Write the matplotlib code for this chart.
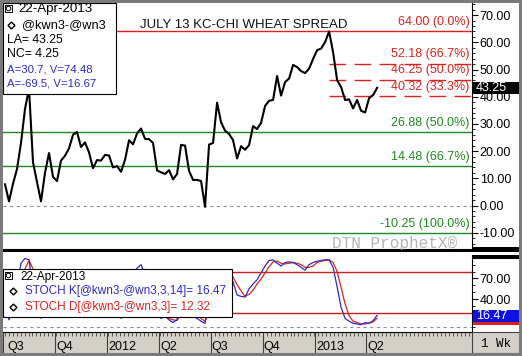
import matplotlib
matplotlib.use("Agg")
import matplotlib.pyplot as plt
import matplotlib.dates as mdates
from matplotlib.patches import Rectangle, Ellipse
from matplotlib.lines import Line2D
import pandas as pd

# weekly closes of the July 13 KC-CHI wheat spread
spread = [7.8, 1.5, 8.0, 13.4, 23.0, 35.5, 43.0, 15.9, 8.6, 1.5,
          12.0, 19.3, 10.5, 9.0, 16.5, 18.3, 21.0, 26.0, 27.0, 21.5,
          23.2, 19.5, 13.7, 16.7, 16.5, 18.6, 18.4, 14.0, 14.5, 12.4,
          16.8, 24.0, 22.5, 26.5, 28.3, 24.5, 24.4, 23.0, 12.9, 12.2,
          11.6, 13.0, 9.6, 11.6, 22.3, 22.0, 12.7, 9.4, 9.4, 9.0,
          -0.5, 22.4, 23.0, 37.8, 30.6, 27.5, 26.3, 24.0, 17.3, 21.8,
          20.5, 22.2, 29.2, 28.1, 30.4, 36.6, 38.5, 38.8, 47.6, 40.4,
          45.4, 46.7, 51.7, 50.9, 49.4, 48.7, 50.3, 53.9, 57.1, 57.7,
          60.1, 64.0, 56.3, 46.1, 43.5, 38.8, 39.0, 35.7, 38.8, 34.8,
          34.2, 39.5, 40.6, 43.25]

stoch_k = [30, 10, 25, 60, 92, 99, 97, 55, 30, 12,
           35, 55, 35, 25, 45, 50, 60, 75, 80, 60,
           65, 45, 25, 35, 35, 45, 45, 25, 28, 12,
           30, 70, 75, 85, 90, 75, 70, 65, 20, 12,
           15, 10, 6, 10, 40, 55, 30, 15, 12, 8,
           5, 50, 62, 80, 82, 78, 72, 65, 46, 44,
           43, 55, 62, 68, 78, 88, 96, 97, 92, 88,
           93, 94, 93, 90, 86, 82, 90, 93, 95, 96,
           97, 97, 86, 58, 28, 12, 8, 5, 4, 3,
           6, 5, 9, 16.47]

stoch_d = [40, 25, 20, 32, 58, 84, 96, 84, 60, 32,
           26, 34, 42, 38, 35, 40, 52, 62, 72, 72,
           68, 57, 45, 35, 32, 38, 42, 38, 33, 23,
           24, 38, 58, 77, 83, 83, 78, 70, 52, 32,
           16, 12, 10, 9, 19, 35, 42, 33, 19, 12,
           8, 21, 39, 65, 75, 80, 77, 72, 61, 52,
           44, 47, 53, 62, 69, 78, 87, 94, 95, 92,
           91, 92, 93, 92, 90, 86, 86, 88, 93, 95,
           96, 97, 93, 80, 57, 33, 16, 8, 6, 4,
           4, 5, 7, 12.32]

weeks = pd.date_range(end="2013-04-22", periods=len(spread), freq="7D")

fib_red = [64.00, 52.18, 46.25, 40.32]
fib_red_lbl = ["64.00 (0.0%)", "52.18 (66.7%)", "46.25 (50.0%)", "40.32 (33.3%)"]
fib_green = [26.88, 14.48, -10.25]
fib_green_lbl = ["26.88 (50.0%)", "14.48 (66.7%)", "-10.25 (100.0%)"]

quarters = pd.to_datetime(["2011-07-01", "2011-10-01", "2012-01-01", "2012-04-01",
                           "2012-07-01", "2012-10-01", "2013-01-01", "2013-04-01"])
quarter_lbl = ["Q3", "Q4", "2012", "Q2", "Q3", "Q4", "2013", "Q2"]

W, H = 522, 356
RED = "#e0201c"
GREEN = "#1f8a1f"
BLUE = "#2a2ad0"
plt.rcParams["font.family"] = ["Liberation Sans", "DejaVu Sans"]

fig = plt.figure(figsize=(W / 100, H / 100), dpi=100)


def axes_px(x0, y0, x1, y1):
    return fig.add_axes([x0 / W, 1 - y1 / H, (x1 - x0) / W, (y1 - y0) / H])


def rect_px(x0, y0, x1, y1, **kw):
    fig.add_artist(Rectangle((x0 / W, 1 - y1 / H), (x1 - x0) / W, (y1 - y0) / H,
                             transform=fig.transFigure, **kw))


def text_px(x, y, s, **kw):
    fig.text(x / W, 1 - y / H, s, va="center", **kw)


xnum = mdates.date2num(weeks)
xmin = xnum[0] - 3.5
xmax = xnum[-1] + 166

# ---- main price panel
ax = axes_px(3, 3, 472, 250)
ax.plot(xnum, spread, color="black", lw=1.5, zorder=5)
for v in fib_red:
    if v == 64.00:
        ax.axhline(v, color=RED, lw=1)
    else:
        ax.plot([xnum[81], xmax], [v, v], color=RED, lw=1, dashes=(12, 6))
for v in fib_green:
    ax.axhline(v, color=GREEN, lw=1)
ax.axhline(0, color="#909090", lw=0.8, dashes=(3, 3))
for v, s in zip(fib_red, fib_red_lbl):
    ax.text(xmax - 4, v + 1.2, s, color=RED, fontsize=9, ha="right", va="bottom")
for v, s in zip(fib_green, fib_green_lbl):
    ax.text(xmax - 4, v + 1.2, s, color=GREEN, fontsize=9, ha="right", va="bottom")
ax.text(0.513, 0.887, "JULY 13 KC-CHI WHEAT SPREAD", transform=ax.transAxes,
        fontsize=9.5, ha="center", va="bottom", color="#101010")
ax.text(0.835, 0.01, "DTN ProphetX\u00ae", transform=ax.transAxes, fontsize=11.5,
        family="Liberation Mono", color="#b4b4b4", ha="center", va="baseline")
ax.set_xlim(xmin, xmax)
ax.set_ylim(-16.36, 74.45)
ax.set_xticks([])
ax.yaxis.tick_right()
ax.set_yticks(range(-10, 80, 10))
ax.set_yticklabels([f"{v:.2f}" for v in range(-10, 80, 10)])
ax.set_yticks(range(-16, 75, 2), minor=True)
ax.tick_params(axis="y", which="major", length=4, width=0.8, pad=1.5, labelsize=9)
ax.tick_params(axis="y", which="minor", length=2, width=0.6)
for side in ["left", "top"]:
    ax.spines[side].set_visible(False)
ax.spines["bottom"].set_linewidth(1.5)

# ---- stochastics panel
ax2 = axes_px(3, 256, 472, 331)
ax2.plot(xnum, stoch_d, color=RED, lw=0.9)
ax2.plot(xnum, stoch_k, color=BLUE, lw=0.9)
ax2.axhline(80, color="#c81e1e", lw=1)
ax2.axhline(20, color="#c81e1e", lw=1)
ax2.axhline(0, color="#909090", lw=0.8, dashes=(3, 3))
ax2.set_xlim(xmin, xmax)
ax2.set_ylim(-6.2, 102.5)
ax2.set_xticks([])
ax2.yaxis.tick_right()
ax2.set_yticks([40, 70])
ax2.set_yticklabels(["40.00", "70.00"])
ax2.set_yticks(range(0, 101, 10), minor=True)
ax2.tick_params(axis="y", which="major", length=4, width=0.8, pad=1.5, labelsize=9)
ax2.tick_params(axis="y", which="minor", length=2, width=0.6)
for side in ["left", "top", "bottom"]:
    ax2.spines[side].set_visible(False)

# ---- date strip
ax3 = axes_px(3, 332, 472, 353)
ax3.set_facecolor("#d4d0c8")
ax3.set_xlim(xmin, xmax)
ax3.set_ylim(0, 1)
ax3.set_yticks([])
ax3.xaxis.set_minor_locator(mdates.WeekdayLocator(byweekday=mdates.MO))
ax3.set_xticks(mdates.date2num(quarters))
ax3.set_xticklabels([])
ax3.tick_params(axis="x", which="both", top=True, bottom=False, direction="in")
ax3.tick_params(axis="x", which="major", length=15, width=0.8, color="#404040")
ax3.tick_params(axis="x", which="minor", length=3, width=0.6, color="#404040")
for q, s in zip(mdates.date2num(quarters), quarter_lbl):
    ax3.text(max(q, xmin) + 2, 0.28, s, fontsize=9, va="center", ha="left")
for side in ["left", "bottom", "right"]:
    ax3.spines[side].set_visible(False)

# ---- right side furniture
rect_px(472, 332, 519, 353, facecolor="#d4d0c8", edgecolor="#404040", lw=0.8)
text_px(481, 344, "1 Wk", fontsize=9, family="Liberation Mono")
rect_px(0, 249.5, 522, 252, facecolor="black", lw=0)
rect_px(472, 247, 519, 252, facecolor="black", lw=0)
rect_px(472, 255, 519, 259, facecolor="black", lw=0)

rect_px(473, 82, 519, 94, facecolor="black", lw=0)
text_px(476, 88, "43.25", fontsize=9, color="white")
rect_px(473, 312, 519, 325, facecolor=RED, lw=0)
rect_px(473, 310, 519, 322, facecolor="#1010e0", lw=0)
text_px(476, 316, "16.47", fontsize=9, color="white")

# ---- legend boxes
rect_px(3, 3, 116, 94, facecolor="white", edgecolor="black", lw=0.8)
rect_px(5, 5, 12, 12, facecolor="white", edgecolor="black", lw=0.7)
fig.add_artist(Ellipse((8.5 / W, 1 - 8.5 / H), 4.5 / W, 4.5 / H, fill=False,
                       edgecolor="black", lw=0.7, transform=fig.transFigure))
text_px(18, 9, "22-Apr-2013", fontsize=9.6)
fig.add_artist(Line2D([11 / W], [1 - 25 / H], marker="D", markersize=3.5, mfc="white",
                      mec="black", mew=1, transform=fig.transFigure))
text_px(22, 25, "@kwn3-@wn3", fontsize=9.2)
text_px(7, 40, "LA= 43.25", fontsize=8.8)
text_px(7, 54, "NC= 4.25", fontsize=8.8)
text_px(7, 69, "A=30.7, V=74.48", fontsize=8.2, color=BLUE)
text_px(7, 84, "A=-69.5, V=16.67", fontsize=8.2, color=BLUE)

rect_px(3, 269, 232, 317, facecolor="white", edgecolor="black", lw=0.8)
rect_px(5, 272, 12, 279, facecolor="white", edgecolor="black", lw=0.7)
fig.add_artist(Ellipse((8.5 / W, 1 - 275.5 / H), 4.5 / W, 4.5 / H, fill=False,
                       edgecolor="black", lw=0.7, transform=fig.transFigure))
text_px(20, 277, "22-Apr-2013", fontsize=8.5)
for yy in (291, 307):
    fig.add_artist(Line2D([13 / W], [1 - yy / H], marker="D", markersize=3.5, mfc="white",
                          mec="black", mew=1, transform=fig.transFigure))
text_px(25, 291, "STOCH K[@kwn3-@wn3,3,14]= 16.47", fontsize=8.5, color=BLUE)
text_px(25, 307, "STOCH D[@kwn3-@wn3,3]= 12.32", fontsize=8.5, color=RED)

# ---- outer frame
for box in [(0, 0, 522, 3), (0, 0, 3, 356), (519, 0, 522, 356), (0, 353, 522, 356)]:
    rect_px(*box, facecolor="#7a7a7a", lw=0)

fig.savefig("out.png", dpi=100)
